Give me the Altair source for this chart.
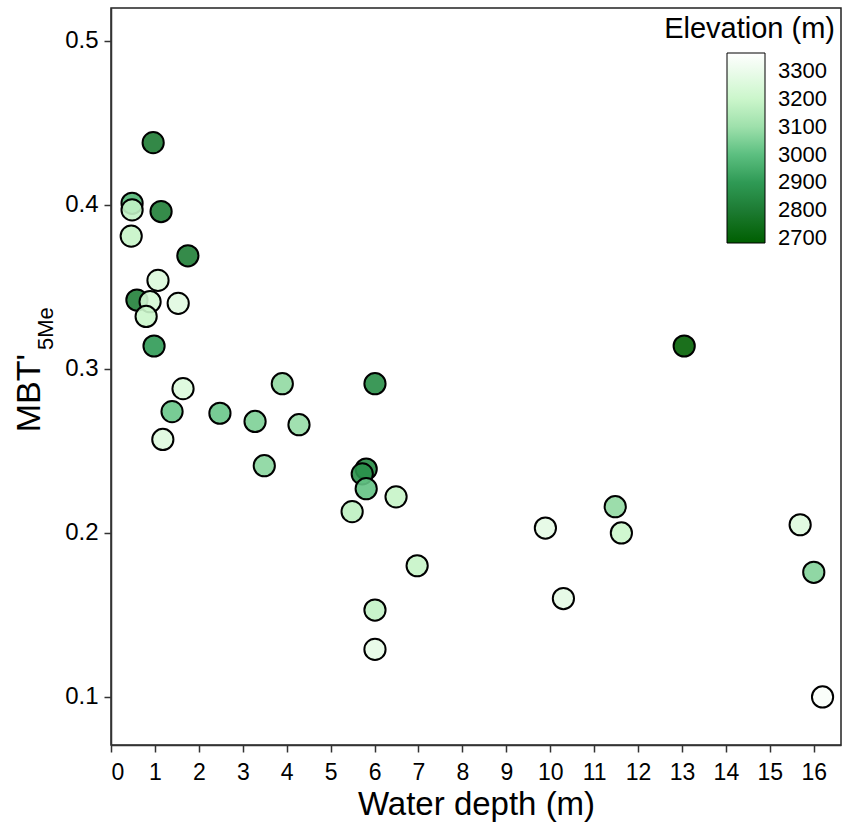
import altair as alt
import pandas as pd

depth = [0.96, 0.48, 0.48, 1.14, 0.46, 1.75, 1.07, 0.59, 0.89, 1.53, 0.80, 0.98,
         13.05, 1.64, 3.90, 6.01, 1.39, 2.48, 3.28, 4.28, 1.18, 3.49, 5.81, 5.72,
         5.81, 6.49, 5.49, 6.97, 6.01, 6.01, 9.89, 10.30, 11.48, 11.62, 15.69, 16.00, 16.20]
mbt = [0.438, 0.401, 0.397, 0.396, 0.381, 0.369, 0.354, 0.342, 0.341, 0.340, 0.332, 0.314,
       0.314, 0.288, 0.291, 0.291, 0.274, 0.273, 0.268, 0.266, 0.257, 0.241, 0.239, 0.236,
       0.227, 0.222, 0.213, 0.180, 0.153, 0.129, 0.203, 0.160, 0.216, 0.200, 0.205, 0.176, 0.100]
elev = [2800, 2980, 3180, 2810, 3190, 2810, 3250, 2820, 3230, 3270, 3200, 2900,
        2690, 3250, 3080, 2860, 3020, 3020, 3050, 3090, 3260, 3070, 2850, 2870,
        3010, 3190, 3170, 3190, 3180, 3290, 3280, 3280, 3080, 3200, 3260, 3060, 3350]

x_ticks = list(range(0, 17))
y_ticks = [0.1, 0.2, 0.3, 0.4, 0.5]
legend_ticks = [2700, 2800, 2900, 3000, 3100, 3200, 3300]
color_domain = [2682, 2800, 2900, 3000, 3100, 3200, 3365]
color_range = ["#005f00", "#1d7b33", "#2f9a55", "#5cbf80", "#9ee0ab", "#cbf6cb", "#ffffff"]

df = pd.DataFrame({"depth": depth, "mbt": mbt, "elev": elev})

FONT = "Liberation Sans"

points = alt.Chart(df).mark_circle(
    size=450, stroke="black", strokeWidth=2, fillOpacity=0.9, strokeOpacity=1
).encode(
    x=alt.X("depth:Q", scale=alt.Scale(domain=[0, 16.62], nice=False, zero=False),
            axis=alt.Axis(values=x_ticks, title="Water depth (m)", format="d")),
    y=alt.Y("mbt:Q", scale=alt.Scale(domain=[0.0707, 0.5201], nice=False, zero=False),
            axis=alt.Axis(values=y_ticks, title=None, format=".1f")),
    fill=alt.Fill("elev:Q",
                  scale=alt.Scale(domain=color_domain, range=color_range, interpolate="rgb"),
                  legend=alt.Legend(title=None, orient="none", legendX=616, legendY=45,
                                    values=legend_ticks, format="d", gradientLength=190,
                                    gradientThickness=38, gradientStrokeColor="black",
                                    gradientStrokeWidth=1, labelFontSize=22,
                                    labelFont=FONT, labelColor="black", labelOffset=13,
                                    labelOverlap=False, padding=0, direction="vertical")),
)

ytitle1 = alt.Chart(pd.DataFrame({"t": ["MBT'"]})).mark_text(
    angle=270, align="right", baseline="alphabetic", fontSize=34, font=FONT, color="black"
).encode(text="t:N", x=alt.value(-71), y=alt.value(346))

ytitle2 = alt.Chart(pd.DataFrame({"t": ["5Me"]})).mark_text(
    angle=270, align="left", baseline="alphabetic", fontSize=22, font=FONT, color="black"
).encode(text="t:N", x=alt.value(-58), y=alt.value(342))

ltitle = alt.Chart(pd.DataFrame({"t": ["Elevation (m)"]})).mark_text(
    align="right", baseline="alphabetic", fontSize=29, font=FONT, color="black"
).encode(text="t:N", x=alt.value(724), y=alt.value(30))

chart = alt.layer(points, ytitle1, ytitle2, ltitle).properties(
    width=730, height=737,
    padding={"left": 111, "top": 8, "right": 1, "bottom": 87},
    autosize=alt.AutoSizeParams(type="none"),
).configure_view(
    stroke="#222222", strokeWidth=1.5
).configure_axis(
    labelFont=FONT, titleFont=FONT, labelFontSize=23, titleFontSize=33,
    labelColor="black", titleColor="black", domainColor="#333333", domainWidth=1.5,
    tickColor="#333333", tickWidth=1.5, tickSize=7, grid=False,
    titleFontWeight="normal"
).configure_axisX(labelPadding=9, titlePadding=4).configure_axisY(labelPadding=6, labelFontSize=24)

chart.save("out.html", embed_options={"renderer": "svg", "actions": False})
